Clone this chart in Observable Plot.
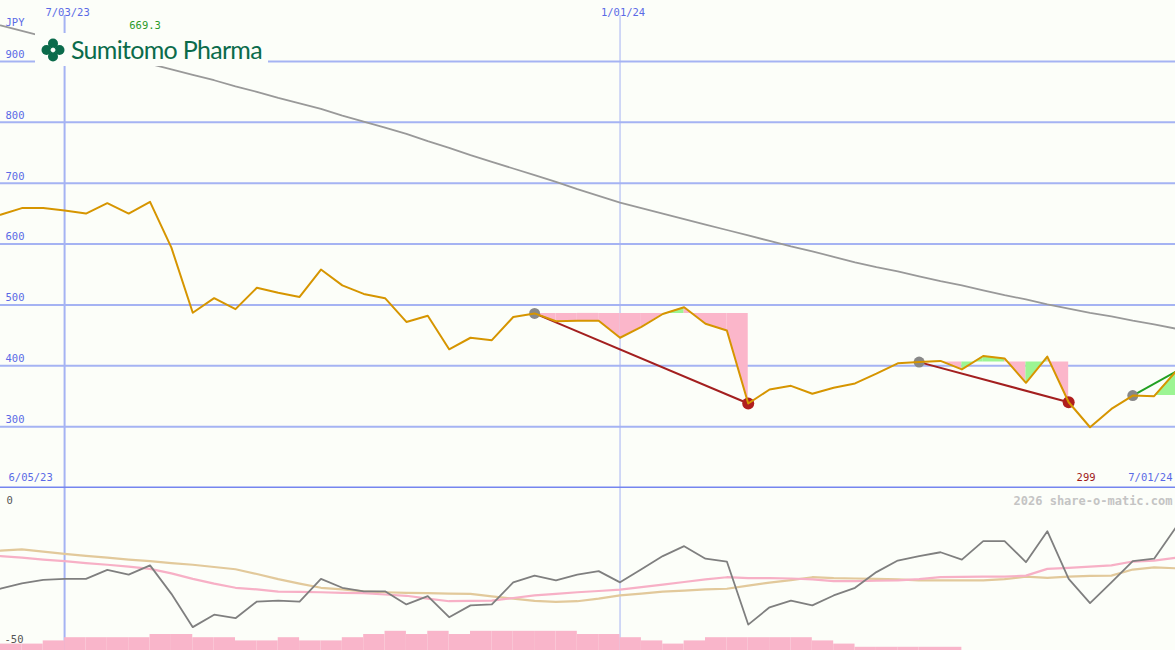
<!DOCTYPE html>
<html><head><meta charset="utf-8">
<script src="https://cdn.jsdelivr.net/npm/d3@7"></script>
<script src="https://cdn.jsdelivr.net/npm/@observablehq/plot@0.6"></script>
<style>
html,body{margin:0;padding:0;background:#fcfef9;overflow:hidden}
#wrap{position:relative;width:1175px;height:650px;background:#fcfef9}
#wrap svg{display:block}
#logo{position:absolute;left:35px;top:33px;width:233px;height:33px;background:#fcfef9;display:flex;align-items:center}
#logo span{font-family:Lato,'Noto Sans',sans-serif;font-size:25px;color:#0b6b4b;margin-left:6px;letter-spacing:-0.7px;line-height:33px}
</style></head><body>
<div id="wrap"><div id="topPanel"></div><div id="bottomPanel"></div>
<div id="logo"><svg width="24" height="24" viewBox="0 0 24 24" style="margin-left:6px">
<circle cx="12" cy="5.5" r="5" fill="#0b6b4b"/><circle cx="12" cy="18.5" r="5" fill="#0b6b4b"/>
<circle cx="5.5" cy="12" r="5" fill="#0b6b4b"/><circle cx="18.5" cy="12" r="5" fill="#0b6b4b"/>
<rect x="10" y="10" width="4" height="4" transform="rotate(45 12 12)" fill="#fcfef9"/></svg><span>Sumitomo Pharma</span></div>
</div>
<script>
// ---- data ----
const weeks = ["2023-06-12","2023-06-19","2023-06-26","2023-07-03","2023-07-10","2023-07-17","2023-07-24","2023-07-31",
"2023-08-07","2023-08-14","2023-08-21","2023-08-28","2023-09-04","2023-09-11","2023-09-18","2023-09-25",
"2023-10-02","2023-10-09","2023-10-16","2023-10-23","2023-10-30","2023-11-06","2023-11-13","2023-11-20","2023-11-27",
"2023-12-04","2023-12-11","2023-12-18","2023-12-25","2024-01-01","2024-01-08","2024-01-15","2024-01-22","2024-01-29",
"2024-02-05","2024-02-12","2024-02-19","2024-02-26","2024-03-04","2024-03-11","2024-03-18","2024-03-25",
"2024-04-01","2024-04-08","2024-04-15","2024-04-22","2024-04-29","2024-05-06","2024-05-13","2024-05-20","2024-05-27",
"2024-06-03","2024-06-10","2024-06-17","2024-06-24","2024-07-01"];
const price = [648,659,659,655,650,667,650,669.3,594,487,511,493,528,520,513,558,532,518,511,472,482,427,446,442,480,486,
473,474,474,446,464,485,496,469,458,338,361,367,354,364,371,387,404,406,408,394,416,412,372,415,340,299,329,351,350,390];
const longMA = [959,950,941,932,923,914,905,896,887,878,869,859,850,840,831,822,811,801,791,781,769,758,746,735,724,713,
702,690,679,668,659,650,641,632,623,614,605,596,588,579,570,562,555,547,539,532,524,516,509,501,494,487,481,474,468,461];
const oscGray = [-30.7,-29.0,-27.9,-27.6,-27.6,-24.8,-26.3,-23.4,-32.3,-42.7,-38.8,-39.9,-34.7,-34.4,-34.7,-27.6,-30.4,-31.5,
-31.5,-35.6,-33.0,-39.6,-35.9,-35.6,-28.7,-26.6,-28.1,-26.3,-25.2,-28.7,-24.6,-20.5,-17.4,-21.3,-22.2,-41.9,-36.5,-34.4,
-35.9,-32.8,-30.4,-25.5,-21.9,-20.5,-19.3,-21.6,-15.8,-15.8,-22.4,-12.7,-27.6,-35.2,-28.7,-22.1,-21.3,-11.7];
const oscPink = [-20.5,-21.0,-21.6,-22.1,-22.7,-23.2,-23.8,-24.5,-25.9,-27.6,-29.1,-30.4,-30.9,-31.6,-31.7,-31.8,-32.0,-32.1,
-32.5,-32.9,-33.8,-34.6,-34.5,-34.4,-33.6,-32.8,-32.3,-31.8,-31.4,-31.0,-30.2,-29.4,-28.6,-27.8,-27.1,-27.4,-27.4,-27.5,
-27.8,-28.3,-28.3,-28.2,-28.1,-27.7,-27.1,-27.0,-26.9,-26.9,-26.6,-24.5,-24.2,-23.8,-23.4,-22.2,-21.9,-21.0];
const oscTan = [-18.8,-18.4,-19.1,-19.8,-20.4,-21.0,-21.6,-22.1,-22.7,-23.2,-23.9,-24.6,-26.1,-27.7,-29.1,-30.4,-30.9,-31.5,
-31.8,-32.0,-32.1,-32.2,-32.3,-33.1,-33.8,-34.5,-34.8,-34.6,-33.8,-32.8,-32.2,-31.6,-31.3,-30.9,-30.7,-29.7,-28.8,-28.0,
-27.1,-27.4,-27.5,-27.6,-27.8,-28.1,-28.1,-28.1,-28.1,-27.7,-26.9,-27.3,-26.9,-26.7,-26.6,-24.7,-24.0,-24.3];
const volume = [2,2,3,4,4,4,4,5,5,4,4,3,3,4,3,3,4,5,6,5,6,5,6,6,6,6,6,5,5,4,3,2,3,4,4,4,4,4,3,2,1,1,1,1,1,0,0,0,0,0,0,0,0,0,0];
const priceTicks = [300,400,500,600,700,800,900];
const gridDates = ["2023-07-03","2024-01-01"];
const gridLabels = ["7/03/23","1/01/24"];
const gridWidths = [2,1];
const rangeLabels = ["6/05/23","7/01/24"];
const events = [{from:25,to:35,trend:"down"},{from:43,to:50,trend:"down"},{from:53,to:55,trend:"up"}];

// ---- build ----
const rows = weeks.map((w,i)=>({date:new Date(w),price:price[i],ma:longMA[i],g:oscGray[i],p:oscPink[i],t:oscTan[i]}));
const grid = gridDates.map((d,i)=>({date:new Date(d),label:gridLabels[i],w:gridWidths[i]}));
const segs = [];
events.forEach((e,ei)=>{
  const level = price[e.from];
  for(let i=e.from;i<e.to;i++){
    const color = price[i+1] >= level ? "#9cf593" : "#fbb6ca";
    segs.push({date:rows[i].date,lo:level,hi:price[i],seg:ei+"-"+i,color});
    segs.push({date:rows[i+1].date,lo:level,hi:price[i+1],seg:ei+"-"+i,color});
  }
});
const links = events.map(e=>({x1:rows[e.from].date,y1:price[e.from],x2:rows[e.to].date,y2:price[e.to],
  stroke: e.trend==="down" ? "#a31f1f" : "#22a022"}));
const startDots = events.map(e=>({date:rows[e.from].date,v:price[e.from]}));
const endDots = events.filter(e=>e.trend==="down").map(e=>({date:rows[e.to].date,v:price[e.to]}));
const hiI = d3.maxIndex(price), loI = d3.minIndex(price);
const bars = volume.map((v,i)=>({x1:rows[i].date,x2:rows[i+1].date,v})).filter(d=>d.v>0);

const W = 1175;
const mono = "'DejaVu Sans Mono','Liberation Mono',monospace";
const xs = {type:"utc",domain:[rows[0].date,rows[rows.length-1].date],range:[0,W],axis:null};
const blue = "#5a6ae6", gridC = "#a5b3f3";

const topChart = Plot.plot({
  width:W,height:488,marginTop:0,marginBottom:0,marginLeft:0,marginRight:0,
  x:xs, y:{domain:[200,1000],range:[487,0],axis:null}, color:{type:"identity"},
  style:{background:"transparent",fontFamily:mono,fontSize:"10.5px"},
  marks:[
    Plot.ruleY(priceTicks,{stroke:gridC,strokeWidth:2}),
    Plot.ruleX(grid,{x:"date",stroke:gridC,strokeWidth:"w",insetTop:15}),
    Plot.ruleY([200],{stroke:"#7585ef",strokeWidth:2}),
    Plot.text(priceTicks,{y:d=>d,text:d=>String(d),frameAnchor:"left",textAnchor:"start",dx:5,dy:-7,fill:blue}),
    Plot.text(grid,{x:"date",text:"label",frameAnchor:"top",dy:8,dx:3,fill:blue}),
    Plot.text(["JPY"],{frameAnchor:"top-left",textAnchor:"start",dx:5,dy:18,fill:blue}),
    Plot.text([rangeLabels[0]],{frameAnchor:"bottom-left",textAnchor:"start",dx:8,dy:-8,fill:blue}),
    Plot.text([rangeLabels[1]],{frameAnchor:"bottom-right",textAnchor:"end",dx:-3,dy:-8,fill:blue}),
    Plot.text([hiI],{x:i=>rows[i].date,text:i=>String(price[i]),frameAnchor:"top",dy:21,dx:-5,fill:"#2a9a2a"}),
    Plot.text([loI],{x:i=>rows[i].date,text:i=>String(price[i]),frameAnchor:"bottom",dy:-8,dx:-4,fill:"#a01818"}),
    Plot.line(rows,{x:"date",y:"ma",stroke:"#999999",strokeWidth:1.8}),
    Plot.areaY(segs,{x:"date",y1:"lo",y2:"hi",z:"seg",fill:"color"}),
    Plot.link(links,{x1:"x1",y1:"y1",x2:"x2",y2:"y2",stroke:"stroke",strokeWidth:2}),
    Plot.dot(startDots,{x:"date",y:"v",r:5.5,fill:"#888888"}),
    Plot.dot(endDots,{x:"date",y:"v",r:6,fill:"#b01e1e"}),
    Plot.line(rows,{x:"date",y:"price",stroke:"#d69500",strokeWidth:2})
  ]
});
document.getElementById("topPanel").appendChild(topChart);

const bottomChart = Plot.plot({
  width:W,height:162,marginTop:0,marginBottom:0,marginLeft:0,marginRight:0,
  x:xs, y:{domain:[-50,0],range:[162,2],axis:null},
  style:{background:"transparent",fontFamily:mono,fontSize:"10.5px"},
  marks:[
    Plot.ruleX(grid,{x:"date",stroke:gridC,strokeWidth:"w"}),
    Plot.line(rows,{x:"date",y:"t",stroke:"#e2c99b",strokeWidth:2.2}),
    Plot.line(rows,{x:"date",y:"p",stroke:"#f7b0c6",strokeWidth:2.2}),
    Plot.line(rows,{x:"date",y:"g",stroke:"#7f7f7f",strokeWidth:1.8}),
    Plot.rect(bars,{x1:"x1",x2:"x2",y1:-50,y2:d=>-50+d.v,fill:"#f9b5ca"}),
    Plot.text(["0"],{frameAnchor:"top-left",textAnchor:"start",dx:6,dy:8,fill:"#555"}),
    Plot.text(["-50"],{frameAnchor:"bottom-left",textAnchor:"start",dx:4,dy:-8,fill:"#555"}),
    Plot.text(["2026 share-o-matic.com"],{frameAnchor:"top-right",textAnchor:"end",dx:-3,dy:8,fill:"#c4c4c4",fontWeight:"bold",fontSize:12})
  ]
});
document.getElementById("bottomPanel").appendChild(bottomChart);
</script></body></html>
